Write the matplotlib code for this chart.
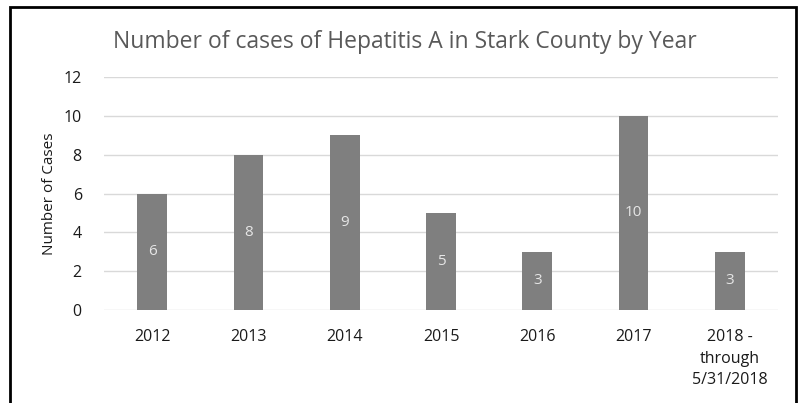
import numpy as np
import matplotlib
matplotlib.use('Agg')
import matplotlib.pyplot as plt
import matplotlib.patches as mpatches

years = ['2012', '2013', '2014', '2015', '2016', '2017', '2018 -\nthrough\n5/31/2018']
cases = [6, 8, 9, 5, 3, 10, 3]
yticks = [0, 2, 4, 6, 8, 10, 12]

plt.rcParams['font.family'] = ['Open Sans', 'DejaVu Sans']

W, H = 802, 403
fig = plt.figure(figsize=(W/100, H/100), dpi=100)
ax = fig.add_axes([104/W, 1-310/H, (778-104)/W, (310-77)/H])

x = np.arange(len(years))
bars = ax.bar(x, cases, width=0.31, color='#7f7f7f', zorder=3)
for xi, v in zip(x, cases):
    ax.text(xi, v/2, str(v), ha='center', va='center', color='#e6e6e6', fontsize=11, zorder=4)

ax.set_xlim(-0.5, len(years)-0.5)
ax.set_ylim(0, 12)
ax.set_yticks(yticks)
ax.set_xticks(x)
ax.set_xticklabels(years, fontsize=11.5, color='#1a1a1a', linespacing=1.45, va='top')
ax.tick_params(axis='y', labelsize=11.5, labelcolor='#1a1a1a', length=0, pad=16)
ax.tick_params(axis='x', length=0, pad=14)
ax.yaxis.grid(True, color='#d9d9d9', linewidth=1, zorder=0)
for s in ax.spines.values():
    s.set_visible(False)
ax.set_ylabel('Number of Cases', fontsize=11, color='#1a1a1a', labelpad=5)

fig.text(0.5045, 1-42/H, 'Number of cases of Hepatitis A in Stark County by Year',
         ha='center', va='center', fontsize=16.5, color='#595959')

# outer frame
fig.patches.append(mpatches.Rectangle((10/W, -0.1), (796-10)/W, 1.1-7/H,
                                      transform=fig.transFigure, fill=False,
                                      edgecolor='black', linewidth=2))

plt.savefig('out.png', dpi=100)
